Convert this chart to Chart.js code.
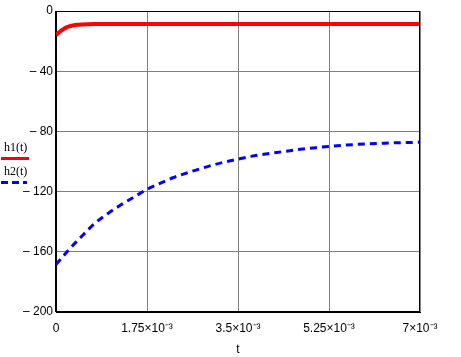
<!DOCTYPE html>
<html>
<head>
<meta charset="utf-8">
<script src="https://cdn.jsdelivr.net/npm/chart.js@4.4.1/dist/chart.umd.min.js"></script>
<style>
html,body{margin:0;padding:0;background:#fff;}
#wrap{position:relative;width:461px;height:357px;}
</style>
</head>
<body>
<div id="wrap"><canvas id="c" width="461" height="357"></canvas></div>
<script>
// ---- data ----
const tH1 = [0, 0.025e-3, 0.05e-3, 0.075e-3, 0.1e-3, 0.15e-3, 0.2e-3, 0.25e-3, 0.3e-3, 0.4e-3, 0.5e-3, 0.6e-3, 0.8e-3, 1.0e-3, 2.0e-3, 3.0e-3, 4.0e-3, 5.0e-3, 6.0e-3, 7.0e-3];
const h1Vals = [-16, -15.2, -14.4, -13.7, -13.0, -11.9, -10.9, -10.3, -9.8, -9.2, -8.9, -8.75, -8.65, -8.6, -8.6, -8.6, -8.6, -8.6, -8.6, -8.6];
const tH2 = [0, 0.25e-3, 0.5e-3, 0.75e-3, 1.0e-3, 1.25e-3, 1.5e-3, 1.75e-3, 2.0e-3, 2.25e-3, 2.5e-3, 2.75e-3, 3.0e-3, 3.25e-3, 3.5e-3, 3.75e-3, 4.0e-3, 4.25e-3, 4.5e-3, 4.75e-3, 5.0e-3, 5.25e-3, 5.5e-3, 5.75e-3, 6.0e-3, 6.25e-3, 6.5e-3, 6.75e-3, 7.0e-3];
const h2Vals = [-168.5, -158.5, -149.5, -141, -134.5, -128.8, -123.6, -118.5, -114.5, -110.8, -107.8, -105.1, -102.5, -100.3, -98.4, -96.6, -95.2, -94, -92.8, -91.7, -90.8, -90, -89.3, -88.7, -88.2, -87.9, -87.6, -87.4, -87.2];
const xTickValues = [0, 1.75e-3, 3.5e-3, 5.25e-3, 7e-3];
const xTickLabels = ["0", "1.75×10⁻³", "3.5×10⁻³", "5.25×10⁻³", "7×10⁻³"];
const yTickValues = [0, -40, -80, -120, -160, -200];
const yTickLabels = ["0", "– 40", "– 80", "– 120", "– 160", "– 200"];
const seriesNames = ["h1(t)", "h2(t)"];
const xTitle = "t";

const h1Data = tH1.map((t, i) => ({x: t, y: h1Vals[i]}));
const h2Data = tH2.map((t, i) => ({x: t, y: h2Vals[i]}));

const boxPlugin = {
  id: 'box',
  afterDatasetsDraw(chart) {
    const {ctx, chartArea: a} = chart;
    ctx.save();
    ctx.strokeStyle = '#000';
    ctx.lineWidth = 1;
    ctx.strokeRect(Math.round(a.left) - 0.5, Math.round(a.top) + 0.5, Math.round(a.right - a.left), Math.round(a.bottom - a.top) - 1);
    ctx.restore();
  },
  afterDraw(chart) {
    const ctx = chart.ctx;
    ctx.save();
    ctx.font = '12px "Liberation Serif", serif';
    ctx.fillStyle = '#000';
    ctx.textBaseline = 'middle';
    ctx.textAlign = 'left';
    ctx.fillText(seriesNames[0], 4, 148);
    ctx.strokeStyle = '#ff0000';
    ctx.lineWidth = 3;
    ctx.beginPath(); ctx.moveTo(1, 158.5); ctx.lineTo(29, 158.5); ctx.stroke();
    ctx.fillText(seriesNames[1], 4, 172);
    ctx.strokeStyle = '#0000ff';
    ctx.setLineDash([7, 4]);
    ctx.beginPath(); ctx.moveTo(1, 182.5); ctx.lineTo(27, 182.5); ctx.stroke();
    ctx.restore();
  }
};

new Chart(document.getElementById('c'), {
  type: 'line',
  data: {
    datasets: [
      {label: seriesNames[0], data: h1Data, borderColor: '#ff0000', borderWidth: 4, pointRadius: 0, tension: 0.3, cubicInterpolationMode: 'monotone', fill: false},
      {label: seriesNames[1], data: h2Data, borderColor: '#0000ff', borderWidth: 3, borderDash: [7, 5], pointRadius: 0, cubicInterpolationMode: 'monotone', fill: false}
    ]
  },
  options: {
    responsive: false,
    animation: false,
    devicePixelRatio: 1,
    layout: {padding: {top: 11, right: 41, left: 0, bottom: 0}},
    plugins: {legend: {display: false}, tooltip: {enabled: false}},
    scales: {
      x: {
        type: 'linear', min: 0, max: 7e-3,
        afterBuildTicks: s => { s.ticks = xTickValues.map(v => ({value: v})); },
        afterFit: s => { s.height = 45; },
        grid: {color: '#808080', lineWidth: 1, drawTicks: false},
        border: {color: '#000', width: 1},
        ticks: {
          padding: 9, maxRotation: 0, autoSkip: false,
          color: '#000', font: {family: '"Liberation Sans", Arial, sans-serif', size: 12},
          callback: (v, i) => xTickLabels[i]
        },
        title: {display: true, text: xTitle, color: '#000', font: {family: '"Liberation Sans", Arial, sans-serif', size: 12}, padding: {top: 4, bottom: 0}}
      },
      y: {
        type: 'linear', min: -200, max: 0,
        afterBuildTicks: s => { s.ticks = yTickValues.map(v => ({value: v})); },
        afterFit: s => { s.width = 56; },
        grid: {color: '#808080', lineWidth: 1, drawTicks: false},
        border: {color: '#000', width: 1},
        ticks: {
          padding: 3, autoSkip: false,
          color: '#000', font: {family: '"Liberation Sans", Arial, sans-serif', size: 12},
          callback: (v, i) => yTickLabels[i]
        }
      }
    }
  },
  plugins: [boxPlugin]
});
</script>
</body>
</html>
